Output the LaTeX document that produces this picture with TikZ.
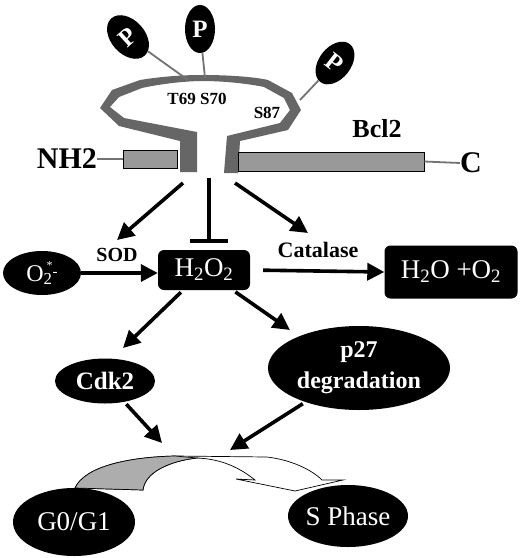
\documentclass[tikz,border=0pt]{standalone}
\usepackage{fontspec}
\setmainfont{Liberation Serif}
\usetikzlibrary{shapes.geometric,arrows.meta,calc}
\definecolor{bandgray}{gray}{0.40}
\definecolor{bargray}{gray}{0.60}
\definecolor{stalkgray}{gray}{0.45}
\definecolor{cyclegray}{gray}{0.68}
\begin{document}
\begin{tikzpicture}[x=1pt,y=-1pt,
  arr/.style={line width=3.6pt,-{Triangle[length=17pt,width=17pt]}},
  tbar/.style={line width=3.6pt,-{Bar[width=38pt,line width=3.6pt]}},
  blob/.style={ellipse,fill=black,text=white,inner sep=0pt},
  box/.style={rectangle,rounded corners=6pt,fill=black,text=white,inner sep=0pt},
  pball/.style={blob,minimum width=34pt,minimum height=50pt,font=\fontsize{25}{25}\selectfont\bfseries},
  stalk/.style={line width=1.8pt,draw=stalkgray},
  barbox/.style={rectangle,draw=black,line width=0.8pt,fill=bargray,inner sep=0pt},
  thinline/.style={line width=1.8pt,draw=stalkgray},
  lbl/.style={inner sep=0pt,font=\fontsize{17}{17}\selectfont\bfseries},
  big/.style={inner sep=0pt,font=\fontsize{30}{30}\selectfont\bfseries},
  wtxt/.style={font=\fontsize{27}{27}\selectfont},
]
\useasboundingbox (0,0) rectangle (520,558);

% ---- protein loop ----
\fill[bandgray] (180,172) -- (180,141) -- (119,126) -- (100,108) -- (112,90) -- (140,80)
  .. controls (165,76) and (185,75) .. (203,75) .. controls (230,75) and (255,77) .. (268,80)
  -- (292,93) -- (301,110) -- (288,130) -- (240,141) -- (238,173)
  -- (224,173) -- (227,136) -- (280,123) -- (290,110) -- (284,98) -- (264,87)
  .. controls (250,84) and (225,81) .. (203,81) .. controls (185,81) and (160,84) .. (142,88)
  -- (119,97) -- (110,107) -- (124,118) -- (197,132) -- (197,172) -- cycle;

% bars
\node[barbox,minimum width=54pt,minimum height=18pt] (lbar) at (150,159) {};
\node[barbox,minimum width=186pt,minimum height=19pt] (rbar) at (331,161.5) {};
\node[big] (nh2) at (67,159) {NH2};
\node[big] (cterm) at (471,163) {C};
\node[inner sep=0pt,font=\fontsize{26}{26}\selectfont\bfseries] (bcl2) at (377,129) {Bcl2};
\draw[thinline] (nh2.east) -- (lbar.west);
\draw[thinline] (rbar.east) -- (cterm.west);

% residue labels
\node[lbl] (t69) at (197,99) {T69 S70};
\node[lbl] (s87) at (267,113) {S87};

% phosphates
\coordinate (sl) at (188,80);
\coordinate (sm) at (205,78);
\coordinate (sr) at (300,100);
\node[pball,rotate=42] (p1) at (128,37) {P};
\node[pball,minimum width=30pt,minimum height=48pt] (p2) at (200,29) {P};
\node[pball,rotate=-38,minimum width=32pt,minimum height=48pt] (p3) at (335,63) {P};
\draw[stalk] (p1) -- (sl);
\draw[stalk] (p2) -- (sm);
\draw[stalk] (p3) -- (sr);

% ---- middle row ----
\node[blob,minimum width=78pt,minimum height=44pt,font=\fontsize{24}{24}\selectfont] (o2) at (42,273)
  {O\textsubscript{2}\kern-6pt\raisebox{12pt}{\fontsize{12}{12}\selectfont *}\raisebox{5pt}{\fontsize{15}{15}\selectfont -}};
\node[box,minimum width=92pt,minimum height=40pt,wtxt] (h2o2) at (204,270)
  {H\textsubscript{2}O\textsubscript{2}};
\node[box,minimum width=133pt,minimum height=53pt,font=\fontsize{27}{27}\selectfont] (prod) at (451,272)
  {H\textsubscript{2}O +O\textsubscript{2}};
\node[inner sep=0pt,font=\fontsize{20}{20}\selectfont\bfseries] (sod) at (117,255) {SOD};
\node[inner sep=0pt,font=\fontsize{22}{22}\selectfont\bfseries] (cat) at (318,250) {Catalase};

\draw[arr] (o2.east) -- (h2o2.west |- o2.east);
\draw[arr,shorten <=13pt] (h2o2.east) -- (prod.west);

% arrows from protein
\coordinate (pl) at (183,183);
\coordinate (pm) at (209,178);
\coordinate (pr) at (235,183);
\coordinate (tipl) at (117,240);
\coordinate (tipr) at (308,233);
\draw[arr] (pl) -- (tipl);
\draw[tbar] (pm) -- (pm |- 0,243);
\draw[arr] (pr) -- (tipr);

% ---- lower part ----
\node[blob,minimum width=100pt,minimum height=45pt,font=\fontsize{25}{25}\selectfont\bfseries] (cdk2) at (105,381) {Cdk2};
\node[blob,minimum width=182pt,minimum height=84pt,font=\fontsize{24}{31}\selectfont\bfseries,align=center] (p27) at (359,368)
  {p27\\degradation};
\coordinate (tcdk) at (123,348);
\coordinate (tp27) at (290,330);
\draw[arr,shorten <=3pt] (h2o2) -- (tcdk);
\draw[arr,shorten <=3pt] (h2o2) -- (tp27);

% cell cycle curved arrow
\draw[line width=0.7pt,fill=white] (75,488) .. controls (85,466) and (130,457) .. (175,456) -- (267,457)
  .. controls (292,460) and (312,470) .. (322,480) -- (343,480) -- (295,491) -- (236,479) -- (255,480)
  .. controls (240,468) and (222,459) .. (197,458) .. controls (170,461) and (145,472) .. (143,490) -- cycle;
\filldraw[fill=cyclegray,draw=black,line width=0.7pt] (75,488) .. controls (85,466) and (130,457) .. (175,456) -- (197,458)
  .. controls (170,461) and (145,472) .. (143,490) -- cycle;

\coordinate (c1) at (162,443);
\coordinate (c2) at (230,450);
\draw[arr,shorten <=3pt] (cdk2) -- (c1);
\draw[arr,shorten <=3pt] (p27) -- (c2);

\node[blob,minimum width=122pt,minimum height=68pt,font=\fontsize{27}{27}\selectfont] (g0) at (74,522) {G0/G1};
\node[blob,minimum width=120pt,minimum height=62pt,font=\fontsize{27}{27}\selectfont] (sph) at (348,516) {S Phase};
\end{tikzpicture}
\end{document}
